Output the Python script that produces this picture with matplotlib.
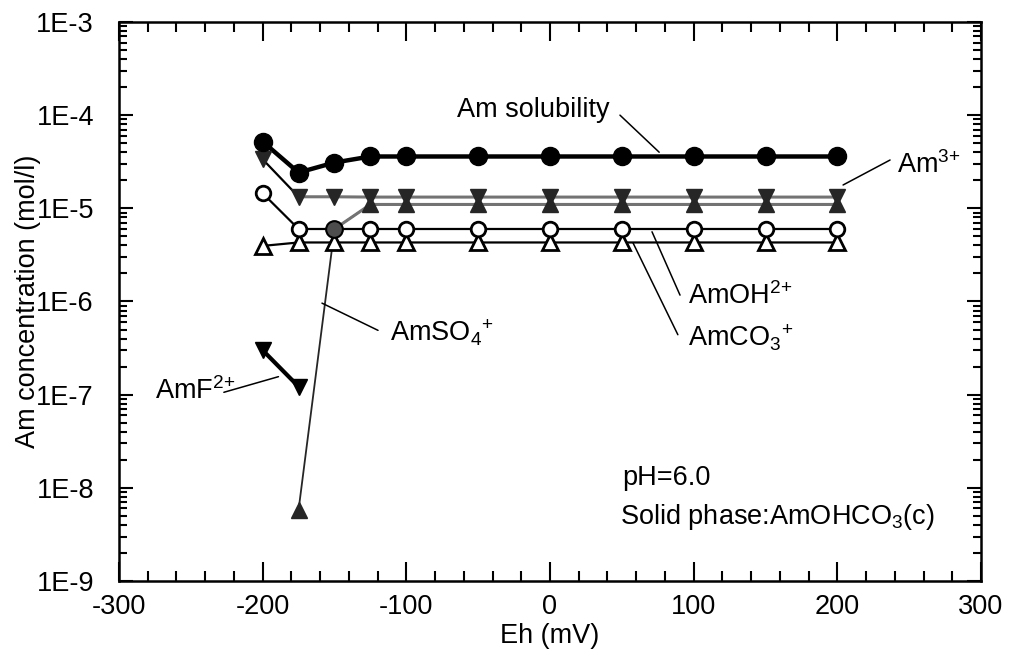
# Am concentration vs Eh at pH 6.0 (solid phase AmOHCO3(c))

import numpy as np
import matplotlib
matplotlib.use('Agg')
import matplotlib.pyplot as plt
from matplotlib.ticker import FixedLocator, FuncFormatter, NullFormatter

plt.rcParams['font.family'] = ['Liberation Sans', 'DejaVu Sans']
plt.rcParams['mathtext.fontset'] = 'custom'
plt.rcParams['mathtext.rm'] = 'Liberation Sans'
plt.rcParams['mathtext.default'] = 'regular'
plt.rcParams['axes.unicode_minus'] = False

# data
eh = [-200, -175, -150, -125, -100, -50, 0, 50, 100, 150, 200]
am_solubility = [5.2e-5, 2.42e-5, 3.1e-5, 3.6e-5, 3.6e-5, 3.6e-5, 3.6e-5, 3.6e-5, 3.6e-5, 3.6e-5, 3.6e-5]
am3 = [3.36e-5, 1.33e-5, 1.33e-5, 1.32e-5, 1.32e-5, 1.32e-5, 1.32e-5, 1.32e-5, 1.32e-5, 1.32e-5, 1.32e-5]
amoh = [1.45e-5, 6.0e-6, 6.0e-6, 6.0e-6, 6.0e-6, 6.0e-6, 6.0e-6, 6.0e-6, 6.0e-6, 6.0e-6, 6.0e-6]
amco3 = [3.95e-6, 4.3e-6, 4.3e-6, 4.3e-6, 4.3e-6, 4.3e-6, 4.3e-6, 4.3e-6, 4.3e-6, 4.3e-6, 4.3e-6]
eh_so4 = [-175, -150, -125, -100, -50, 0, 50, 100, 150, 200]
amso4 = [5.8e-9, 6.0e-6, 1.1e-5, 1.1e-5, 1.1e-5, 1.1e-5, 1.1e-5, 1.1e-5, 1.1e-5, 1.1e-5]
eh_f = [-200, -175]
amf = [3.0e-7, 1.22e-7]

fig = plt.figure(figsize=(10.1, 6.64), dpi=100)
ax = fig.add_axes([0.1178, 0.125, 0.8535, 0.8419])

# lines (back to front)
ax.plot(eh_so4, amso4, color='0.15', lw=1.3, zorder=2)
ax.plot(eh_so4[1:], amso4[1:], color='0.45', lw=2.2, zorder=2)
ax.plot(eh, amco3, color='black', lw=1.6, zorder=3)
ax.plot(eh, amoh, color='black', lw=1.6, zorder=3)
ax.plot(eh[:2], am3[:2], color='black', lw=1.6, zorder=3)
ax.plot(eh[1:], am3[1:], color='0.45', lw=2.2, zorder=3)
ax.plot(eh_f, amf, color='black', lw=3, zorder=3)
ax.plot(eh, am_solubility, color='black', lw=3.2, zorder=4)

# markers
ax.plot(eh, amco3, ls='none', marker='^', ms=11, mfc='white', mec='black', mew=2, zorder=5)
ax.plot(eh, amoh, ls='none', marker='o', ms=10.5, mfc='white', mec='black', mew=2, zorder=6)
mask = [i for i in range(len(eh_so4)) if i != 1]
ax.plot([eh_so4[i] for i in mask], [amso4[i] for i in mask], ls='none', marker='^',
        ms=12, mfc='0.15', mec='0.15', zorder=7)
ax.plot(eh_so4[1], amso4[1], ls='none', marker='o', ms=12, mfc='0.3', mec='black', mew=1.5, zorder=7)
ax.plot(eh, am3, ls='none', marker='v', ms=12, mfc='0.15', mec='0.15', zorder=7)
ax.plot(eh_f, amf, ls='none', marker='v', ms=12, mfc='black', mec='black', zorder=7)
ax.plot(eh, am_solubility, ls='none', marker='o', ms=13, mfc='black', mec='black', zorder=8)

# axes
ax.set_xlim(-300, 300)
ax.set_yscale('log')
ax.set_ylim(1e-9, 1e-3)
decades = np.arange(-9, -2)
ax.xaxis.set_major_locator(FixedLocator(np.arange(-300, 301, 100)))
ax.xaxis.set_minor_locator(FixedLocator(np.arange(-300, 301, 20)))
ax.yaxis.set_major_locator(FixedLocator(10.0 ** decades))
ax.yaxis.set_minor_locator(FixedLocator([m * 10.0 ** d for d in decades[:-1] for m in range(2, 10)]))
ax.yaxis.set_major_formatter(FuncFormatter(lambda v, p: '1E%d' % round(np.log10(v))))
ax.yaxis.set_minor_formatter(NullFormatter())
ax.tick_params(which='both', direction='in', top=True, right=True, width=1.5)
ax.tick_params(axis='x', which='major', length=14, pad=9, labelsize=19.5)
ax.tick_params(axis='x', which='minor', length=7)
ax.tick_params(axis='y', which='major', length=10, pad=18, labelsize=19.5)
ax.tick_params(axis='y', which='minor', length=6)
for s in ax.spines.values():
    s.set_linewidth(1.8)

ax.set_xlabel('Eh (mV)', fontsize=19.5)
ax.set_ylabel('Am concentration (mol/l)', fontsize=19.5)
ax.xaxis.set_label_coords(0.5, -0.075)
ax.yaxis.set_label_coords(-0.09, 0.5)

# labels with leader lines: text, text pos, leader start, leader end
labels = [
    ('Am solubility', (-64.7, 9.6e-5), (48.7, 1.0e-4), (76, 4.0e-5)),
    ('Am$^{3{+}}$', (241.5, 2.42e-5), (236.7, 3.3e-5), (204, 1.78e-5)),
    ('AmOH$^{2{+}}$', (96, 9.4e-7), (90.5, 1.17e-6), (71, 5.6e-6)),
    ('AmCO$_3$$^{{+}}$', (96, 3.27e-7), (89, 4.4e-7), (57.8, 4.25e-6)),
    ('AmSO$_4$$^{{+}}$', (-111.4, 3.7e-7), (-119.7, 4.9e-7), (-158.7, 9.6e-7)),
    ('AmF$^{2{+}}$', (-275, 8.9e-8), (-227, 1.06e-7), (-189, 1.56e-7)),
]
for txt, tpos, p0, p1 in labels:
    ax.text(tpos[0], tpos[1], txt, fontsize=19.5, va='baseline', ha='left')
    ax.annotate('', xy=p1, xytext=p0, arrowprops=dict(arrowstyle='-', lw=1.1, color='black',
                                                      shrinkA=0, shrinkB=0))

ax.text(50, 1.07e-8, 'pH=6.0', fontsize=19.5, va='baseline')
ax.text(48.7, 4.1e-9, 'Solid phase:AmOHCO$_3$(c)', fontsize=19.5, va='baseline')

plt.savefig('out.png', dpi=100)
